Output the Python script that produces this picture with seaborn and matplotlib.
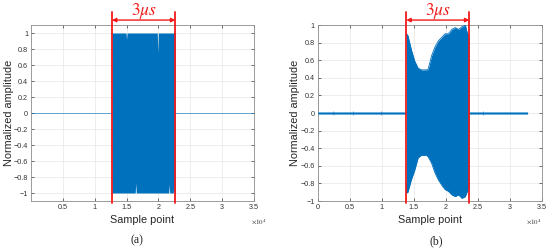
import numpy as np
import pandas as pd
import matplotlib
matplotlib.use("Agg")
import matplotlib.pyplot as plt
import matplotlib.transforms as mtransforms
from matplotlib.ticker import FixedLocator, FuncFormatter
import seaborn as sns

BLUE = "#0072BD"
RED = "#F21A1A"

# (a) transmitted pulse: envelope (sample index)
a_x = [12700, 14920, 15000, 15080, 16360, 16440, 16520, 19820, 19900, 19980,
       21620, 21700, 21780, 22320, 22400, 22480, 22660]
a_top = [1.0, 1.0, 0.92, 1.0, 1.0, 1.0, 1.0, 1.0, 0.75, 1.0,
         1.0, 1.0, 1.0, 1.0, 1.0, 1.0, 1.0]
a_bot = [-1.0, -1.0, -1.0, -1.0, -1.0, -0.88, -1.0, -1.0, -1.0, -1.0,
         -1.0, -0.9, -1.0, -1.0, -0.92, -1.0, -1.0]
a_marks = [12700, 22660]
a_len = 35000

# (b) received pulse: upper / lower envelope
b_x = [13840, 13900, 14100, 14630, 15160, 15690, 16210, 17000, 17270, 17790,
       18320, 18850, 19380, 19900, 20430, 20960, 21490, 22010, 22540, 23070,
       23330, 23600, 23700]
b_top = [0.85, 0.9, 0.88, 0.72, 0.59, 0.51, 0.49, 0.49, 0.5, 0.65,
         0.75, 0.82, 0.86, 0.9, 0.9, 0.95, 0.97, 0.95, 0.98, 1.0,
         0.92, 0.87, 0.85]
b_bot = [-0.8, -0.91, -0.9, -0.76, -0.65, -0.51, -0.48, -0.48, -0.5, -0.57,
         -0.68, -0.76, -0.82, -0.87, -0.89, -0.93, -0.95, -0.93, -0.97, -0.95,
         -0.9, -0.87, -0.85]
# noise floor outside the pulse
b_noise_x = [0, 2400, 2450, 2500, 5500, 5550, 5600, 9800, 9850, 9900, 13840,
             23700, 25800, 25850, 25900, 32800]
b_noise = [0.012, 0.012, 0.03, 0.012, 0.012, 0.03, 0.012, 0.012, 0.03, 0.012, 0.012,
           0.012, 0.012, 0.03, 0.012, 0.012]
b_marks = [13840, 23700]

sns.set_theme(style="whitegrid", rc={
    "axes.edgecolor": "#8c8c8c", "axes.linewidth": 0.6,
    "grid.color": "#e6e6e6", "grid.linewidth": 0.5,
    "xtick.direction": "in", "ytick.direction": "in",
    "xtick.major.size": 2, "ytick.major.size": 2,
    "xtick.major.width": 0.5, "ytick.major.width": 0.5,
    "xtick.color": "#333333", "ytick.color": "#333333",
    "xtick.bottom": True, "ytick.left": True,
    "xtick.top": True, "ytick.right": True,
    "xtick.major.pad": 2.5, "ytick.major.pad": 2.0,
})
plt.rcParams["font.family"] = ["Liberation Sans", "DejaVu Sans"]
plt.rcParams["mathtext.fontset"] = "stix"

fig = plt.figure(figsize=(5.5, 2.5), dpi=100)
ax_a = fig.add_axes([31 / 550, 49 / 250, 223 / 550, 176 / 250])
ax_b = fig.add_axes([317.7 / 550, 49 / 250, 224 / 550, 176 / 250])


def style(ax, ylim, xticks, right, ylab_x):
    ax.set_xlim(0, 35000)
    ax.set_ylim(*ylim)
    ax.xaxis.set_major_locator(FixedLocator(xticks))
    ax.xaxis.set_major_formatter(FuncFormatter(lambda v, p: f"{v / 1e4:g}"))
    ax.yaxis.set_major_locator(FixedLocator(np.arange(-1, 1.01, 0.2)))
    ax.yaxis.set_major_formatter(
        FuncFormatter(lambda v, p: f"{round(v, 1) + 0.0:g}".replace("-", "\u2212")))
    ax.tick_params(labelsize=5.2)
    for s in ax.spines.values():
        s.set_visible(True)
    ax.set_xlabel("Sample point", fontsize=7.8)
    ax.set_ylabel("Normalized amplitude", fontsize=7.8)
    ax.xaxis.set_label_coords(0.5, -0.08)
    ax.yaxis.set_label_coords(ylab_x, 0.5)
    ax.text(1.0 if right else 0.985, -0.115, r"$\times10^4$", transform=ax.transAxes,
            fontsize=5, ha="right" if right else "left", va="center",
            color="#333333", family="DejaVu Sans")


def span(ax, marks):
    tr = mtransforms.blended_transform_factory(ax.transData, ax.transAxes)
    for m in marks:
        ax.plot([m, m], [-0.012, 1.074], color=RED, lw=1.3, transform=tr, clip_on=False, zorder=5)
    ax.annotate("", xy=(marks[0], 1.028), xytext=(marks[1], 1.028), xycoords=tr, textcoords=tr,
                arrowprops=dict(arrowstyle="<|-|>", color=RED, lw=1.0,
                                mutation_scale=6, shrinkA=0, shrinkB=0),
                annotation_clip=False)
    ax.text((marks[0] + marks[1]) / 2, 1.08, r"$3\mu s$", transform=tr, color=RED,
            fontsize=12.5, ha="center", va="center")


# (a)
style(ax_a, (-1.1, 1.1), np.arange(5000, 35001, 5000), False, -0.078)
base = pd.DataFrame({"x": [0, a_len], "y": [0, 0]})
sns.lineplot(data=base, x="x", y="y", ax=ax_a, color=BLUE, lw=0.6, alpha=0.7)
ax_a.fill_between(a_x, a_bot, a_top, color=BLUE, lw=0, zorder=3)
span(ax_a, a_marks)

# (b)
style(ax_b, (-1, 1), np.arange(0, 35001, 5000), True, -0.08)
nx = np.array(b_noise_x)
nv = np.array(b_noise)
pre = nx <= b_marks[0]
post = nx >= b_marks[1]
ax_b.fill_between(nx[pre], -nv[pre], nv[pre], color=BLUE, lw=0, zorder=3)
ax_b.fill_between(nx[post], -nv[post], nv[post], color=BLUE, lw=0, zorder=3)
ax_b.fill_between(b_x, b_bot, b_top, color=BLUE, lw=0, zorder=3)
env = pd.DataFrame({"x": b_x + b_x, "y": b_top + b_bot,
                    "side": ["top"] * len(b_x) + ["bot"] * len(b_x)})
sns.lineplot(data=env, x="x", y="y", units="side", estimator=None, ax=ax_b,
             color=BLUE, lw=0.6, zorder=3)
span(ax_b, b_marks)

fig.text(136.7 / 550, 1 - 240 / 250, "(a)", ha="center", va="center", fontsize=8.5,
         family="Liberation Serif")
fig.text(436 / 550, 1 - 241 / 250, "(b)", ha="center", va="center", fontsize=8.5,
         family="Liberation Serif")

fig.savefig("out.png", dpi=100)
